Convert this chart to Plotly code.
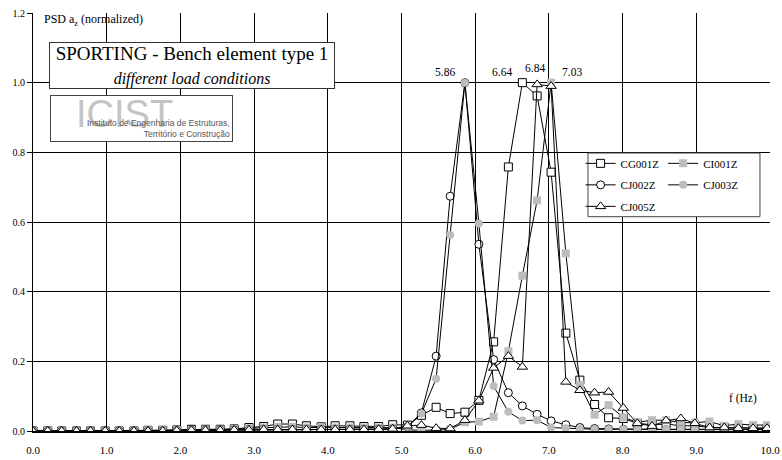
import plotly.graph_objects as go

freq = [0.00, 0.20, 0.39, 0.59, 0.78, 0.98, 1.17, 1.37, 1.56, 1.76,
        1.95, 2.15, 2.34, 2.54, 2.73, 2.93, 3.13, 3.32, 3.52, 3.71,
        3.91, 4.10, 4.30, 4.49, 4.69, 4.88, 5.08, 5.27, 5.47, 5.66,
        5.86, 6.05, 6.25, 6.45, 6.64, 6.84, 7.03, 7.23, 7.42, 7.62,
        7.81, 8.01, 8.20, 8.40, 8.59, 8.79, 8.98, 9.18, 9.38, 9.57,
        9.77, 9.96]

cg001z = [0.0, 0.0, 0.0, 0.0, 0.0, 0.0, 0.0, 0.0, 0.002, 0.002,
          0.003, 0.005, 0.005, 0.005, 0.006, 0.010, 0.013, 0.020, 0.020, 0.015,
          0.012, 0.015, 0.015, 0.013, 0.013, 0.018, 0.017, 0.045, 0.068, 0.050,
          0.054, 0.088, 0.256, 0.758, 1.000, 0.962, 0.743, 0.281, 0.146, 0.076,
          0.038, 0.036, 0.022, 0.018, 0.020, 0.015, 0.015, 0.010, 0.010, 0.008,
          0.008, 0.008]

ci001z = [0.0, 0.0, 0.0, 0.0, 0.0, 0.0, 0.0, 0.0, 0.002, 0.002,
          0.003, 0.003, 0.004, 0.004, 0.005, 0.008, 0.010, 0.012, 0.012, 0.010,
          0.010, 0.010, 0.010, 0.010, 0.010, 0.010, 0.003, 0.002, 0.002, 0.005,
          0.025, 0.027, 0.041, 0.229, 0.446, 0.662, 1.000, 0.510, 0.132, 0.047,
          0.074, 0.039, 0.025, 0.031, 0.031, 0.024, 0.024, 0.027, 0.015, 0.020,
          0.017, 0.017]

cj002z = [0.0, 0.0, 0.0, 0.0, 0.0, 0.0, 0.0, 0.0, 0.0, 0.0,
          0.001, 0.002, 0.002, 0.003, 0.003, 0.004, 0.005, 0.005, 0.005, 0.005,
          0.005, 0.005, 0.005, 0.005, 0.005, 0.006, 0.012, 0.052, 0.215, 0.674,
          1.000, 0.536, 0.205, 0.110, 0.072, 0.048, 0.029, 0.018, 0.010, 0.007,
          0.006, 0.005, 0.004, 0.004, 0.004, 0.004, 0.004, 0.004, 0.004, 0.004,
          0.004, 0.004]

cj003z = [0.0, 0.0, 0.0, 0.0, 0.0, 0.0, 0.0, 0.0, 0.0, 0.0,
          0.001, 0.002, 0.002, 0.003, 0.003, 0.004, 0.005, 0.005, 0.005, 0.005,
          0.005, 0.005, 0.005, 0.005, 0.005, 0.006, 0.012, 0.050, 0.150, 0.563,
          1.000, 0.596, 0.129, 0.055, 0.030, 0.031, 0.010, 0.008, 0.006, 0.005,
          0.005, 0.005, 0.005, 0.005, 0.005, 0.005, 0.005, 0.005, 0.005, 0.005,
          0.005, 0.005]

cj005z = [0.0, 0.0, 0.0, 0.0, 0.0, 0.0, 0.0, 0.0, 0.0, 0.0,
          0.001, 0.002, 0.002, 0.002, 0.003, 0.003, 0.004, 0.004, 0.004, 0.004,
          0.004, 0.004, 0.004, 0.004, 0.005, 0.006, 0.015, 0.017, 0.008, 0.007,
          0.031, 0.087, 0.181, 0.215, 0.184, 0.995, 0.990, 0.141, 0.117, 0.110,
          0.112, 0.066, 0.022, 0.014, 0.030, 0.036, 0.022, 0.010, 0.010, 0.008,
          0.008, 0.008]

x_ticks = [0, 1, 2, 3, 4, 5, 6, 7, 8, 9, 10]
x_labels = ["0.0", "1.0", "2.0", "3.0", "4.0", "5.0", "6.0", "7.0", "8.0", "9.0", "10.0"]
y_ticks = [0.0, 0.2, 0.4, 0.6, 0.8, 1.0, 1.2]
y_labels = ["0.0", "0.2", "0.4", "0.6", "0.8", "1.0", "1.2"]

peak_freqs = [5.86, 6.64, 6.84, 7.03]
peak_labels = ["5.86", "6.64", "6.84", "7.03"]

FONT = "Liberation Serif"
GRAY = "#bdbdbd"

fig = go.Figure()

series = [
    ("CG001Z", cg001z, "square", "white", 1, "legend"),
    ("CI001Z", ci001z, "square", GRAY, 0, "legend2"),
    ("CJ002Z", cj002z, "circle", "white", 1, "legend"),
    ("CJ003Z", cj003z, "circle", GRAY, 0, "legend2"),
    ("CJ005Z", cj005z, "triangle-up", "white", 1, "legend"),
]
for name, vals, sym, fill, lw, lg in series:
    fig.add_trace(go.Scatter(
        x=freq, y=vals, name=name, mode="lines+markers",
        line=dict(color="black", width=1),
        marker=dict(symbol=sym, size=8 if sym != "triangle-up" else 9,
                    color=fill, line=dict(color="black", width=lw)),
        legend=lg, legendgroup=name,
    ))

# peak labels
peak_offsets = {"5.86": (-0.27, 1.031), "6.64": (-0.27, 1.031),
                "6.84": (-0.03, 1.043), "7.03": (0.28, 1.031)}
for f, lab in zip(peak_freqs, peak_labels):
    dx, yy = peak_offsets[lab]
    fig.add_annotation(x=f + dx, y=yy, xref="x", yref="y", text=lab,
                       xanchor="center", yanchor="middle",
                       showarrow=False, font=dict(family=FONT, size=11.5, color="black"))

fig.add_annotation(x=9.63, y=0.094, xref="x", yref="y", text="f (Hz)",
                   xanchor="center", yanchor="middle",
                   showarrow=False, font=dict(family=FONT, size=11.5, color="black"))

fig.add_annotation(x=0.0122, y=0.983, xref="paper", yref="paper", xanchor="left",
                   yanchor="middle",
                   text="PSD a<sub>z</sub> (normalized)", showarrow=False,
                   font=dict(family=FONT, size=12, color="black"))

# title box
fig.add_annotation(x=0.2164, y=0.8744, xref="paper", yref="paper",
                   xanchor="center", yanchor="middle",
                   text="SPORTING - Bench element type 1<br><i><span style='font-size:16px'>different load conditions</span></i>",
                   showarrow=False, width=284, height=45, borderpad=0,
                   bgcolor="white", bordercolor="#333", borderwidth=1,
                   font=dict(family=FONT, size=19, color="black"))

# logo box
fig.add_annotation(x=0.1472, y=0.7476, xref="paper", yref="paper", text=" ",
                   xanchor="center", yanchor="middle",
                   showarrow=False, width=181, height=45, borderpad=0,
                   bgcolor="white", bordercolor="#444", borderwidth=1)
fig.add_annotation(x=0.1248, y=0.758, xref="paper", yref="paper", text="ICIST",
                   xanchor="center", yanchor="middle",
                   showarrow=False,
                   font=dict(family="Liberation Sans", size=38, color="#c4c4c4"))
fig.add_annotation(x=0.270, y=0.7225, xref="paper", yref="paper", xanchor="right",
                   yanchor="middle", align="right",
                   text="Instituto de Engenharia de Estruturas,<br>Território e Construção",
                   showarrow=False,
                   font=dict(family="Liberation Sans", size=8.5, color="#555"))

# legend frame
fig.add_shape(type="rect", xref="paper", yref="paper", x0=0.753, x1=0.9864,
              y0=0.5127, y1=0.665, fillcolor="white", line=dict(color="#444", width=1),
              layer="above")

legend_common = dict(xanchor="left", yanchor="top", bgcolor="rgba(0,0,0,0)",
                     borderwidth=0, itemwidth=30, tracegroupgap=2.5,
                     traceorder="grouped", font=dict(family=FONT, size=11))

fig.update_layout(
    width=782, height=460,
    margin=dict(l=33, r=12, t=13, b=29, autoexpand=False),
    paper_bgcolor="white", plot_bgcolor="white",
    font=dict(family=FONT, size=11, color="black"),
    showlegend=True,
    legend=dict(x=0.743, y=0.675, **legend_common),
    legend2=dict(x=0.855, y=0.675, **legend_common),
    xaxis=dict(range=[0, 10], tickvals=x_ticks, ticktext=x_labels,
               showgrid=True, gridcolor="black", gridwidth=1,
               showline=True, linecolor="black", linewidth=1.5,
               zeroline=False, ticks="", ticklabelstandoff=8, automargin=False,
               tickfont=dict(family=FONT, size=11)),
    yaxis=dict(range=[0, 1.2], tickvals=y_ticks, ticktext=y_labels,
               showgrid=True, gridcolor="black", gridwidth=1,
               showline=True, linecolor="black", linewidth=1,
               zeroline=False, ticks="outside", ticklen=5, tickcolor="black",
               automargin=False,
               tickfont=dict(family=FONT, size=10)),
)

fig.write_html("out.html", config={"displayModeBar": False},
               post_script="document.body.style.margin='0';document.body.style.overflow='hidden';")
